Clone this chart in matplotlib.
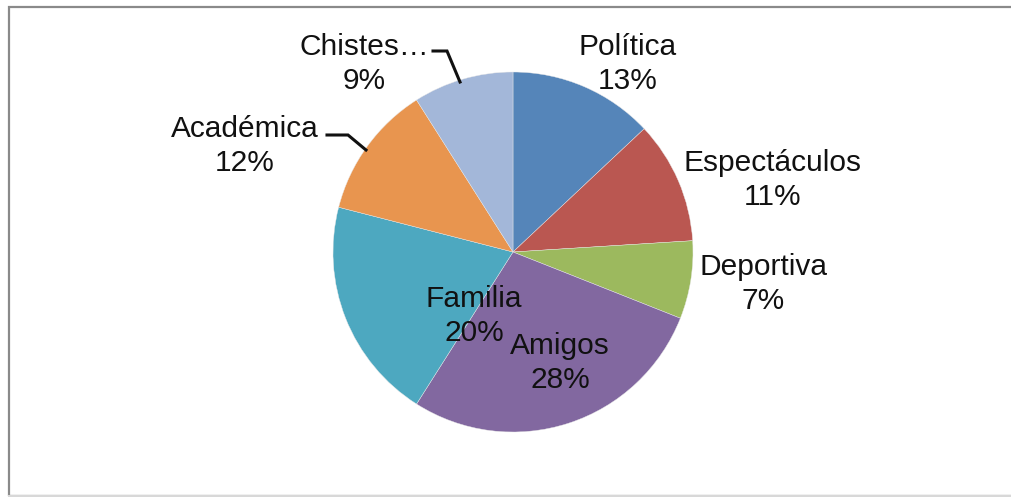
import matplotlib
matplotlib.use("Agg")
import matplotlib.pyplot as plt
from matplotlib.patches import Rectangle

# Data
categories = ["Política", "Espectáculos", "Deportiva", "Amigos", "Familia", "Académica", "Chistes…"]
shares = [13, 11, 7, 28, 20, 12, 9]
colors = ["#5585B9", "#BA5751", "#9CB95E", "#8268A0", "#4DA8C0", "#E8954F", "#A3B7D9"]

# Label centres (pixel coordinates, y measured from top)
label_pos = [(628, 64), (773, 180), (763, 284), (560, 363), (474, 316), (245, 146), (364, 64)]

W, H = 1011, 497
fig = plt.figure(figsize=(W / 100, H / 100), dpi=100)
ax = fig.add_axes([0, 0, 1, 1])
ax.set_xlim(0, W)
ax.set_ylim(0, H)
ax.set_aspect("equal")
ax.axis("off")

plt.rcParams["font.family"] = ["Liberation Sans", "DejaVu Sans"]

# Chart frame
ax.add_patch(Rectangle((8.5, 1.5), W, H - 8, fill=False, edgecolor="#8a8a8a", linewidth=1.6))
ax.plot([8.5, W], [1.0, 1.0], color="#d8d8d8", lw=1.5)

ax.pie(shares, colors=colors, startangle=90, counterclock=False,
       center=(513, H - 252), radius=180,
       wedgeprops=dict(linewidth=0.3, edgecolor="#e8e8e8"))
ax.set_xlim(0, W)
ax.set_ylim(0, H)

for name, val, (x, y) in zip(categories, shares, label_pos):
    ax.text(x, H - y, f"{name}\n{val}%", ha="center", va="center",
            fontsize=21.5, color="#111111", linespacing=1.31,
            family=["Liberation Sans", "DejaVu Sans"])

# Leader lines for the outside labels
leaders = [
    [(433, 51), (447, 51), (460, 82)],
    [(327, 135), (348, 135), (366, 150)],
]
for pts in leaders:
    xs = [p[0] for p in pts]
    ys = [H - p[1] for p in pts]
    ax.plot(xs, ys, color="#111111", lw=2.2, solid_joinstyle="miter")

fig.savefig("out.png", dpi=100)
